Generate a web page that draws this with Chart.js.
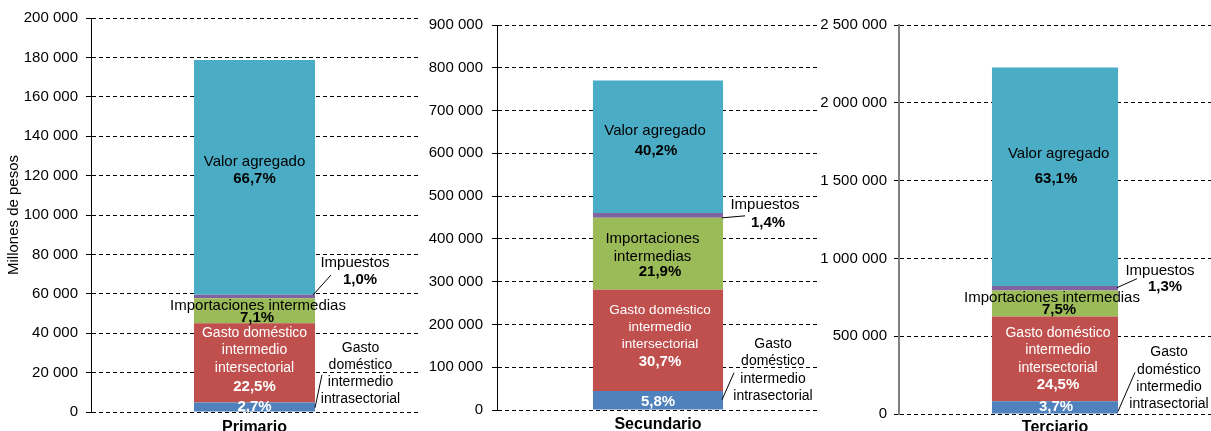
<!doctype html>
<html lang="es">
  <head>
    <meta charset="utf-8">
    <title>Composición del valor bruto de producción por sector</title>
    <script src="https://cdn.jsdelivr.net/npm/chart.js@4.4.1/dist/chart.umd.min.js"></script>
    <style>
      body { margin: 0; background: #fff; }
      #wrap { position: relative; width: 1211px; height: 431px; background: #fff; overflow: hidden; }
      #wrap canvas { position: absolute; top: 0; }
    </style>
  </head>
  <body>
    <div id="wrap">
      <canvas id="primario" width="418" height="431" style="left:0px"></canvas>
      <canvas id="secundario" width="401" height="431" style="left:418px"></canvas>
      <canvas id="terciario" width="399" height="431" style="left:812px"></canvas>
    </div>

<script>
// --- datos (millones de pesos) ---
var categories = ['Primario', 'Secundario', 'Terciario'];
var seriesNames = ['Gasto doméstico intermedio intrasectorial', 'Gasto doméstico intermedio intersectorial',
                   'Importaciones intermedias', 'Impuestos', 'Valor agregado'];
var intrasectorial = [4825, 44660, 82300];
var intersectorial = [40210, 236390, 545100];
var importaciones = [12690, 168630, 166900];
var impuestos = [1790, 10780, 28900];
var valorAgregado = [119200, 309540, 1404000];

var pctPrimario = ['2,7%', '22,5%', '7,1%', '1,0%', '66,7%'];
var pctSecundario = ['5,8%', '30,7%', '21,9%', '1,4%', '40,2%'];
var pctTerciario = ['3,7%', '24,5%', '7,5%', '1,3%', '63,1%'];

var yMax = [200000, 900000, 2500000];
var yStep = [20000, 100000, 500000];

var txtIntra = ['Gasto', 'doméstico', 'intermedio', 'intrasectorial'];
var txtInter = ['Gasto doméstico', 'intermedio', 'intersectorial'];
var colores = ['#4F81BD', '#C0504D', '#9BBB59', '#8064A2', '#4BACC6'];

var FAM = '"Liberation Sans", Arial, sans-serif';
Chart.defaults.font.family = FAM;
Chart.defaults.color = '#000';

function fmt(v) {
  return String(v).replace(/\B(?=(\d{3})+(?!\d))/g, ' ');
}

// etiquetas de los segmentos, colocadas respecto al centro de cada segmento
var segLabels = {
  id: 'segLabels',
  afterDatasetsDraw: function(chart, args, opts) {
    var ctx = chart.ctx;
    opts.items.forEach(function(it) {
      var bar = chart.getDatasetMeta(it.ds).data[0];
      var right = bar.x + bar.width / 2;
      var cy = (bar.y + bar.base) / 2;
      var x0 = bar.x + (it.dx || 0), y0 = cy + (it.dy || 0);
      var lh = it.lh || 17.5;
      var lines = it.lines || [];
      ctx.save();
      ctx.fillStyle = it.color || '#000';
      ctx.textAlign = 'center';
      ctx.textBaseline = 'middle';
      ctx.font = (it.size || 15) + 'px ' + FAM;
      lines.forEach(function(t, i) { ctx.fillText(t, x0, y0 + i * lh); });
      if (it.pct) {
        var py = lines.length ? y0 + (lines.length - 1) * lh + it.gap : y0;
        ctx.font = 'bold 15px ' + FAM;
        ctx.fillText(it.pct, x0 + (it.pdx || 0), py);
      }
      if (it.leader) {
        var l = it.leader;
        ctx.strokeStyle = '#000';
        ctx.lineWidth = 1;
        ctx.beginPath();
        ctx.moveTo(right + l[0], cy + l[1]);
        ctx.lineTo(right + l[2], cy + l[3]);
        ctx.stroke();
      }
      ctx.restore();
    });
  }
};

function makeChart(k, id, lay) {
  var series = [intrasectorial, intersectorial, importaciones, impuestos, valorAgregado];
  var datasets = series.map(function(arr, i) {
    return {
      label: seriesNames[i],
      data: [arr[k]],
      backgroundColor: colores[i],
      borderWidth: 0,
      barPercentage: lay.barPct,
      categoryPercentage: 1
    };
  });
  return new Chart(document.getElementById(id), {
    type: 'bar',
    data: { labels: [categories[k]], datasets: datasets },
    plugins: [segLabels],
    options: {
      responsive: false,
      animation: false,
      devicePixelRatio: 1,
      layout: { padding: { top: lay.top, left: 0, right: 0, bottom: 0 } },
      plugins: {
        legend: { display: false },
        tooltip: { enabled: false },
        segLabels: { items: lay.items }
      },
      scales: {
        x: {
          stacked: true,
          grid: { display: false, drawTicks: false },
          border: { display: false },
          ticks: { font: { size: 16, weight: 'bold' }, color: '#000', padding: lay.xPad },
          afterFit: function(s) { s.height = lay.xH; }
        },
        y: {
          stacked: true,
          min: 0,
          max: yMax[k],
          ticks: {
            stepSize: yStep[k],
            font: { size: 15 },
            color: '#000',
            padding: lay.yPad,
            callback: function(v) { return fmt(v); }
          },
          grid: { color: '#000', lineWidth: 1, tickLength: 5, tickColor: '#000' },
          border: { display: true, color: lay.axisColor || '#000', width: lay.axisW || 1, dash: [4, 3] },
          title: lay.title ? { display: true, text: lay.title, font: { size: 15 }, color: '#000', padding: { top: 5, bottom: 0 } } : { display: false },
          afterFit: function(s) { s.width = lay.yW; }
        }
      }
    }
  });
}

makeChart(0, 'primario', {
  top: 18, yW: 91, xH: 19, xPad: 6, yPad: 8, barPct: 0.37, title: 'Millones de pesos',
  items: [
    { ds: 4, lines: ['Valor agregado'], pct: pctPrimario[4], dx: 0, dy: -15.4, gap: 17 },
    { ds: 3, lines: ['Impuestos'], pct: pctPrimario[3], dx: 100.5, dy: -33.5, gap: 17, pdx: 5, leader: [-2, -1.5, 16, -21.5] },
    { ds: 2, lines: ['Importaciones intermedias'], pct: pctPrimario[2], dx: 3.5, dy: -4.8, gap: 12, pdx: -1 },
    { ds: 1, lines: txtInter, pct: pctPrimario[1], color: '#fff', size: 14, dx: 0, dy: -29.9, lh: 17.5, gap: 19 },
    { ds: 0, pct: pctPrimario[0], color: '#fff', dx: 0, dy: 0 },
    { ds: 0, lines: txtIntra, size: 14, dx: 106, dy: -59.2, lh: 17, leader: [0, 0.8, 7, -32.2] }
  ]
});

makeChart(1, 'secundario', {
  top: 25, yW: 79, xH: 21, xPad: 5, yPad: 9, barPct: 0.404,
  items: [
    { ds: 4, lines: ['Valor agregado'], pct: pctSecundario[4], dx: -3, dy: -16, gap: 20, pdx: 1 },
    { ds: 3, lines: ['Impuestos'], pct: pctSecundario[3], dx: 107, dy: -10.5, gap: 18, pdx: 3, leader: [-1, 2.5, 22, 0.5] },
    { ds: 2, lines: ['Importaciones', 'intermedias'], pct: pctSecundario[2], dx: -5.5, dy: -14.9, lh: 18, gap: 15, pdx: 7.5 },
    { ds: 1, lines: txtInter, pct: pctSecundario[1], color: '#fff', size: 13.5, dx: 2, dy: -30.4, lh: 17, gap: 18 },
    { ds: 0, pct: pctSecundario[0], color: '#fff', dx: 0, dy: 1.5 },
    { ds: 0, lines: txtIntra, size: 14, dx: 115, dy: -56.5, lh: 17.5, leader: [-1, -0.5, 11, -27.5] }
  ]
});

makeChart(2, 'terciario', {
  top: 25, yW: 87, xH: 17, xPad: 4, yPad: 7, barPct: 0.404, axisColor: '#7f7f7f', axisW: 2,
  items: [
    { ds: 4, lines: ['Valor agregado'], pct: pctTerciario[4], dx: 3.7, dy: -23, gap: 25, pdx: -2.7 },
    { ds: 3, lines: ['Impuestos'], pct: pctTerciario[3], dx: 105, dy: -17.5, gap: 16, pdx: 5, leader: [-1, -0.5, 19, -9.5] },
    { ds: 2, lines: ['Importaciones intermedias'], pct: pctTerciario[2], dx: -3, dy: -5.7, gap: 12, pdx: 7 },
    { ds: 1, lines: txtInter, pct: pctTerciario[1], color: '#fff', size: 14, dx: 3, dy: -26.1, lh: 17.5, gap: 17.5 },
    { ds: 0, pct: pctTerciario[0], color: '#fff', dx: 1, dy: -0.9 },
    { ds: 0, lines: txtIntra, size: 14, dx: 114, dy: -54.9, lh: 17.3, leader: [0, 4, 17, -35] }
  ]
});
</script>
  </body>
</html>
